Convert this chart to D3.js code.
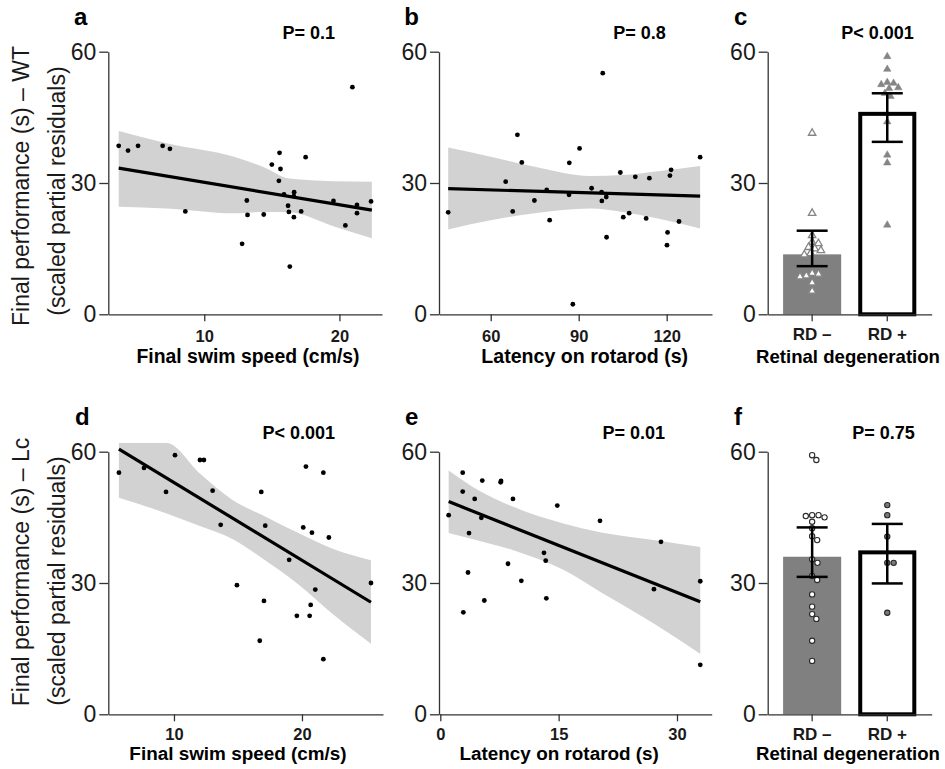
<!DOCTYPE html>
<meta charset="utf-8" />
<style>
  body { margin: 0; background: #fff; overflow: hidden; }
  svg { font-family: "Liberation Sans", Arial, sans-serif; }
  .axis path, .axis line { stroke: #333; stroke-width: 1.3; }
  .axis text { fill: #1a1a1a; }
</style>
<body>
<svg id="fig" width="945" height="769"></svg>
<script src="https://cdn.jsdelivr.net/npm/d3@7"></script>
<script>
// ---- data ----
// a: WT, final swim speed vs performance
var aSpeed = [3.67,4.36,5.1,6.92,7.46,8.6,12.8,13.15,13.2,14.4,15.0,15.57,15.64,15.52,15.9,16.2,16.26,16.33,16.65,16.63,16.63,17.17,17.5,19.56,20.44,20.96,21.3,21.3,22.34];
var aPerf  = [38.5,37.4,38.5,38.5,37.8,23.5,16.1,26.0,22.7,22.8,34.2,36.9,33.2,30.5,27.4,24.8,23.4,10.9,27.9,27.0,22.2,23.5,35.9,25.9,20.3,51.9,25.0,23.1,25.8];
var aFitX = [3.67,22.4], aFitY = [33.4,23.8];
var aBandX = [3.67,7.2,12.2,14.5,16.3,19.5,22.4];
var aBandLo = [24.6,24.2,23.1,23.4,23.3,20.2,17.4];
var aBandHi = [41.9,39.1,36.0,33.5,31.0,30.4,30.3];

// b: WT, rotarod latency vs performance
var bLatency = [45.5,65.1,67.5,69.1,70.6,74.9,79.1,80.1,86.7,86.8,88.0,90.3,94.4,98.2,97.8,97.9,99.4,99.5,104.2,105.2,107.2,109.3,113.0,114.1,120.3,120.1,121.1,121.5,124.2,131.4];
var bPerf    = [23.3,30.3,23.5,41.0,34.7,26.0,28.4,21.5,27.3,34.6,2.3,37.9,28.8,55.1,27.9,25.9,26.8,17.6,32.4,22.2,23.1,31.4,21.9,31.1,18.7,15.8,31.7,33.0,21.2,35.9];
var bFitX = [45.5,131.4], bFitY = [28.7,27.0];
var bBandX = [45.5,60,75,94,105,117,131.4];
var bBandLo = [19.4,21.5,23.1,24.2,23.4,21.9,19.6];
var bBandHi = [38.1,36.0,33.7,31.6,31.8,32.7,33.9];

// d: Lc, final swim speed vs performance
var dSpeed = [5.70,7.66,9.38,10.08,12.03,12.34,13.02,13.65,14.92,16.7,16.82,17.03,17.13,19.0,19.6,20.1,20.31,20.6,20.68,20.78,21.04,21.67,21.67,22.1,25.39];
var dPerf  = [55.2,56.3,50.8,59.2,58.1,58.1,51.1,43.3,29.5,16.8,50.8,25.9,43.1,35.3,22.5,42.7,56.6,22.5,25.0,41.5,28.5,55.2,12.6,40.4,30.0];
var dFitX = [5.70,25.39], dFitY = [60.6,25.6];
var dBandX = [5.7,9.43,12.03,14.6,17.2,19.8,22.4,25.39];
var dBandLo = [49.5,45.9,43.0,40.0,35.0,29.5,22.9,16.1];
var dBandHi = [62,62,55.0,48.9,45.1,41.3,37.8,35.2];

// e: Lc, rotarod latency vs performance
var eLatency = [1.06,2.84,2.84,2.92,3.51,3.64,4.36,5.32,5.2,5.58,7.65,7.7,8.58,9.21,10.27,13.14,13.36,13.44,14.83,20.24,27.08,27.97,32.95,32.95];
var ePerf    = [45.5,55.2,50.9,23.3,32.4,41.4,49.2,53.4,44.9,26.0,53.0,53.3,34.4,49.2,30.5,36.9,35.1,26.5,47.7,44.2,28.6,39.4,30.4,11.3];
var eFitX = [1.06,32.95], eFitY = [48.6,25.7];
var eBandX = [1.06,5,9.25,15.6,20.24,27.0,32.95];
var eBandLo = [41.4,39.6,37.5,33.0,28.0,20.8,13.8];
var eBandHi = [55.7,51.0,47.4,43.6,41.6,39.8,38.2];

// c, f: retinal degeneration groups
var groups = ["RD \u2013", "RD +"];
var cRDneg = [41.4,23.1,18.0,16.5,16.2,15.3,15.0,14.6,13.9,13.6,9.4,9.2,8.8,8.6,7.2,5.3];
var cRDpos = [58.9,56.0,53.0,52.8,52.5,51.8,51.6,50.5,49.8,44.0,36.4,34.6,20.4];
var cMean = [13.7,45.8], cErrLo = [11.0,39.4], cErrHi = [19.1,50.5];
var fRDneg = [59.2,58.1,45.5,45.5,45.3,45.0,44.0,42.5,40.7,39.8,35.4,34.6,31.6,30.7,27.4,24.6,22.9,21.8,16.8,12.2];
var fRDpos = [47.8,45.5,40.6,34.6,34.6,23.2];
var fMean = [36.0,37.0], fErrLo = [31.4,29.9], fErrHi = [42.7,43.5];

var yTicks = [0,30,60];

// ---- layout ----
var svg = d3.select("#fig");
var rows = [
  {top: 51.7, bottom: 314.3, tickPad: 9, titleY: 362.5, letterY: 25, pY: 39.3},
  {top: 451.7, bottom: 714.3, tickPad: 7, titleY: 760, letterY: 425, pY: 439.3}
];

function zip(xs, ys) { return xs.map(function(x, i) { return [x, ys[i]]; }); }

function drawYAxis(g, y, x0) {
  g.append("g").attr("class", "axis").attr("transform", "translate(" + x0 + ",0)")
    .call(d3.axisLeft(y).tickValues(yTicks).tickSize(9).tickSizeOuter(0).tickPadding(3))
    .call(function(a) { a.selectAll("text").style("font-size", "23px"); });
}

function drawLabels(p, row) {
  svg.append("text").attr("x", p.letterX).attr("y", row.letterY)
    .style("font-size", "24px").style("font-weight", "bold").text(p.letter);
  svg.append("text").attr("x", p.pX).attr("y", row.pY).attr("text-anchor", "middle")
    .style("font-size", "18px").style("font-weight", "bold").text(p.pText);
  svg.append("text").attr("x", p.titleX).attr("y", row.titleY).attr("text-anchor", "middle")
    .style("font-size", p.titleSize + "px").style("font-weight", "bold").text(p.title);
}

function scatterPanel(p) {
  var row = rows[p.row];
  var x = d3.scaleLinear().domain(p.domain).range([p.left, p.right]);
  var y = d3.scaleLinear().domain([0, 60]).range([row.bottom, row.top]);
  var g = svg.append("g");

  var band = p.bandX.map(function(v, i) { return {x: v, lo: p.bandLo[i], hi: p.bandHi[i]}; });
  g.append("path").datum(band)
    .attr("fill", "#d2d2d2")
    .attr("d", d3.area().curve(d3.curveMonotoneX)
      .x(function(d) { return x(d.x); })
      .y0(function(d) { return y(d.lo); })
      .y1(function(d) { return y(d.hi); }));

  g.append("path").datum(zip(p.fitX, p.fitY))
    .attr("fill", "none").attr("stroke", "#000").attr("stroke-width", 3.2)
    .attr("d", d3.line().x(function(d) { return x(d[0]); }).y(function(d) { return y(d[1]); }));

  g.selectAll("circle.pt").data(zip(p.xs, p.ys)).enter().append("circle")
    .attr("class", "pt")
    .attr("cx", function(d) { return x(d[0]); })
    .attr("cy", function(d) { return y(d[1]); })
    .attr("r", 2.4).attr("fill", "#000");

  g.append("g").attr("class", "axis").attr("transform", "translate(0," + row.bottom + ")")
    .call(d3.axisBottom(x).tickValues(p.ticks).tickSize(7).tickSizeOuter(0).tickPadding(row.tickPad))
    .call(function(a) { a.selectAll("text").style("font-size", "16.5px").style("font-weight", "bold"); });
  drawYAxis(g, y, p.left);
  drawLabels(p, row);
}

// simple beeswarm: offsets so that markers of diameter d don't overlap
function swarm(values, y, d) {
  var placed = [];
  values.slice().sort(function(a, b) { return b - a; }).forEach(function(v) {
    var py = y(v), cands = [0];
    placed.forEach(function(q) {
      var dy = Math.abs(q.y - py);
      if (dy < d) { var w = Math.sqrt(d * d - dy * dy); cands.push(q.dx + w, q.dx - w); }
    });
    cands.sort(function(a, b) { return Math.abs(a) - Math.abs(b); });
    var dx = cands.find(function(c) {
      return placed.every(function(q) { return Math.hypot(q.dx - c, q.y - py) >= d - 1e-6; });
    });
    placed.push({v: v, dx: dx, y: py});
  });
  return placed;
}

function barPanel(p) {
  var row = rows[p.row];
  var x = d3.scaleBand().domain(groups).range([p.left, p.right]).paddingInner(0.227).paddingOuter(0.205);
  var y = d3.scaleLinear().domain([0, 60]).range([row.bottom, row.top]);
  var bw = x.bandwidth();
  var g = svg.append("g");

  // RD- : gray filled bar; RD+ : white bar with thick black outline
  g.append("rect").attr("x", x(groups[0])).attr("width", bw)
    .attr("y", y(p.mean[0])).attr("height", y(0) - y(p.mean[0])).attr("fill", "#808080");
  g.append("rect").attr("x", x(groups[1]) + 2).attr("width", bw - 4)
    .attr("y", y(p.mean[1])).attr("height", y(0) - y(p.mean[1]))
    .attr("fill", "#fff").attr("stroke", "#000").attr("stroke-width", 4);

  [p.neg, p.pos].forEach(function(vals, gi) {
    var cx = x(groups[gi]) + bw / 2;
    var pts = swarm(vals, y, 6.4);
    var sel = g.selectAll("path.m" + gi).data(pts).enter().append("path")
      .attr("class", "m" + gi)
      .attr("transform", function(d) { return "translate(" + (cx + d.dx) + "," + d.y + ")"; });
    if (p.marker === "triangle") {
      sel.attr("d", d3.symbol(d3.symbolTriangle, 24)())
        .attr("fill", gi === 0 ? "#fff" : "#858585")
        .attr("stroke", "#858585").attr("stroke-width", gi === 0 ? 1.3 : 0.5);
    } else {
      sel.attr("d", d3.symbol(d3.symbolCircle, 22)())
        .attr("fill", gi === 0 ? "#fff" : "#7a7a7a")
        .attr("stroke", "#2a2a2a").attr("stroke-width", 1.1);
    }
  });

  groups.forEach(function(k, gi) {
    var cx = x(k) + bw / 2, cap = 15.5;
    var e = g.append("g").attr("stroke", "#000").attr("stroke-width", 2.5);
    e.append("line").attr("x1", cx).attr("x2", cx).attr("y1", y(p.hi[gi])).attr("y2", y(p.lo[gi]));
    e.append("line").attr("x1", cx - cap).attr("x2", cx + cap).attr("y1", y(p.hi[gi])).attr("y2", y(p.hi[gi]));
    e.append("line").attr("x1", cx - cap).attr("x2", cx + cap).attr("y1", y(p.lo[gi])).attr("y2", y(p.lo[gi]));
  });

  g.append("g").attr("class", "axis").attr("transform", "translate(0," + row.bottom + ")")
    .call(d3.axisBottom(x).tickSize(7).tickSizeOuter(0).tickPadding(7))
    .call(function(a) { a.selectAll("text").style("font-size", "17px").style("font-weight", "bold"); });
  drawYAxis(g, y, p.left);
  drawLabels(p, row);
}

scatterPanel({row: 0, left: 108.3, right: 382, domain: [2.9, 23.15], ticks: [10, 20],
  xs: aSpeed, ys: aPerf, fitX: aFitX, fitY: aFitY, bandX: aBandX, bandLo: aBandLo, bandHi: aBandHi,
  letter: "a", letterX: 74, pText: "P= 0.1", pX: 308.8, title: "Final swim speed (cm/s)", titleX: 248, titleSize: 19.4});
scatterPanel({row: 0, left: 439, right: 712, domain: [42.37, 135.45], ticks: [60, 90, 120],
  xs: bLatency, ys: bPerf, fitX: bFitX, fitY: bFitY, bandX: bBandX, bandLo: bBandLo, bandHi: bBandHi,
  letter: "b", letterX: 404.3, pText: "P= 0.8", pX: 639.5, title: "Latency on rotarod (s)", titleX: 584.7, titleSize: 19.6});
barPanel({row: 0, left: 767.7, right: 931.7, neg: cRDneg, pos: cRDpos, mean: cMean, lo: cErrLo, hi: cErrHi,
  marker: "triangle", letter: "c", letterX: 734, pText: "P< 0.001", pX: 877.6,
  title: "Retinal degeneration", titleX: 848, titleSize: 18.6});
scatterPanel({row: 1, left: 108.3, right: 383, domain: [4.87, 26.33], ticks: [10, 20],
  xs: dSpeed, ys: dPerf, fitX: dFitX, fitY: dFitY, bandX: dBandX, bandLo: dBandLo, bandHi: dBandHi,
  letter: "d", letterX: 75, pText: "P< 0.001", pX: 298.8, title: "Final swim speed (cm/s)", titleX: 238, titleSize: 18.9});
scatterPanel({row: 1, left: 439, right: 711.7, domain: [-0.165, 34.4], ticks: [0, 15, 30],
  xs: eLatency, ys: ePerf, fitX: eFitX, fitY: eFitY, bandX: eBandX, bandLo: eBandLo, bandHi: eBandHi,
  letter: "e", letterX: 405, pText: "P= 0.01", pX: 633.7, title: "Latency on rotarod (s)", titleX: 559.2, titleSize: 18.9});
barPanel({row: 1, left: 767.7, right: 931.7, neg: fRDneg, pos: fRDpos, mean: fMean, lo: fErrLo, hi: fErrHi,
  marker: "circle", letter: "f", letterX: 734, pText: "P= 0.75", pX: 883.5,
  title: "Retinal degeneration", titleX: 848, titleSize: 18.6});

// rotated y titles
var yTitles = [
  {text: "Final performance (s) \u2013 WT", x: 28.5, y: 186},
  {text: "(scaled partial residuals)", x: 65, y: 191},
  {text: "Final performance (s) \u2013 Lc", x: 28.5, y: 572},
  {text: "(scaled partial residuals)", x: 65, y: 581}
];
yTitles.forEach(function(t) {
  svg.append("text").attr("transform", "translate(" + t.x + "," + t.y + ") rotate(-90)")
    .attr("text-anchor", "middle").style("font-size", "23px").attr("fill", "#1a1a1a").text(t.text);
});
</script>
</body>
